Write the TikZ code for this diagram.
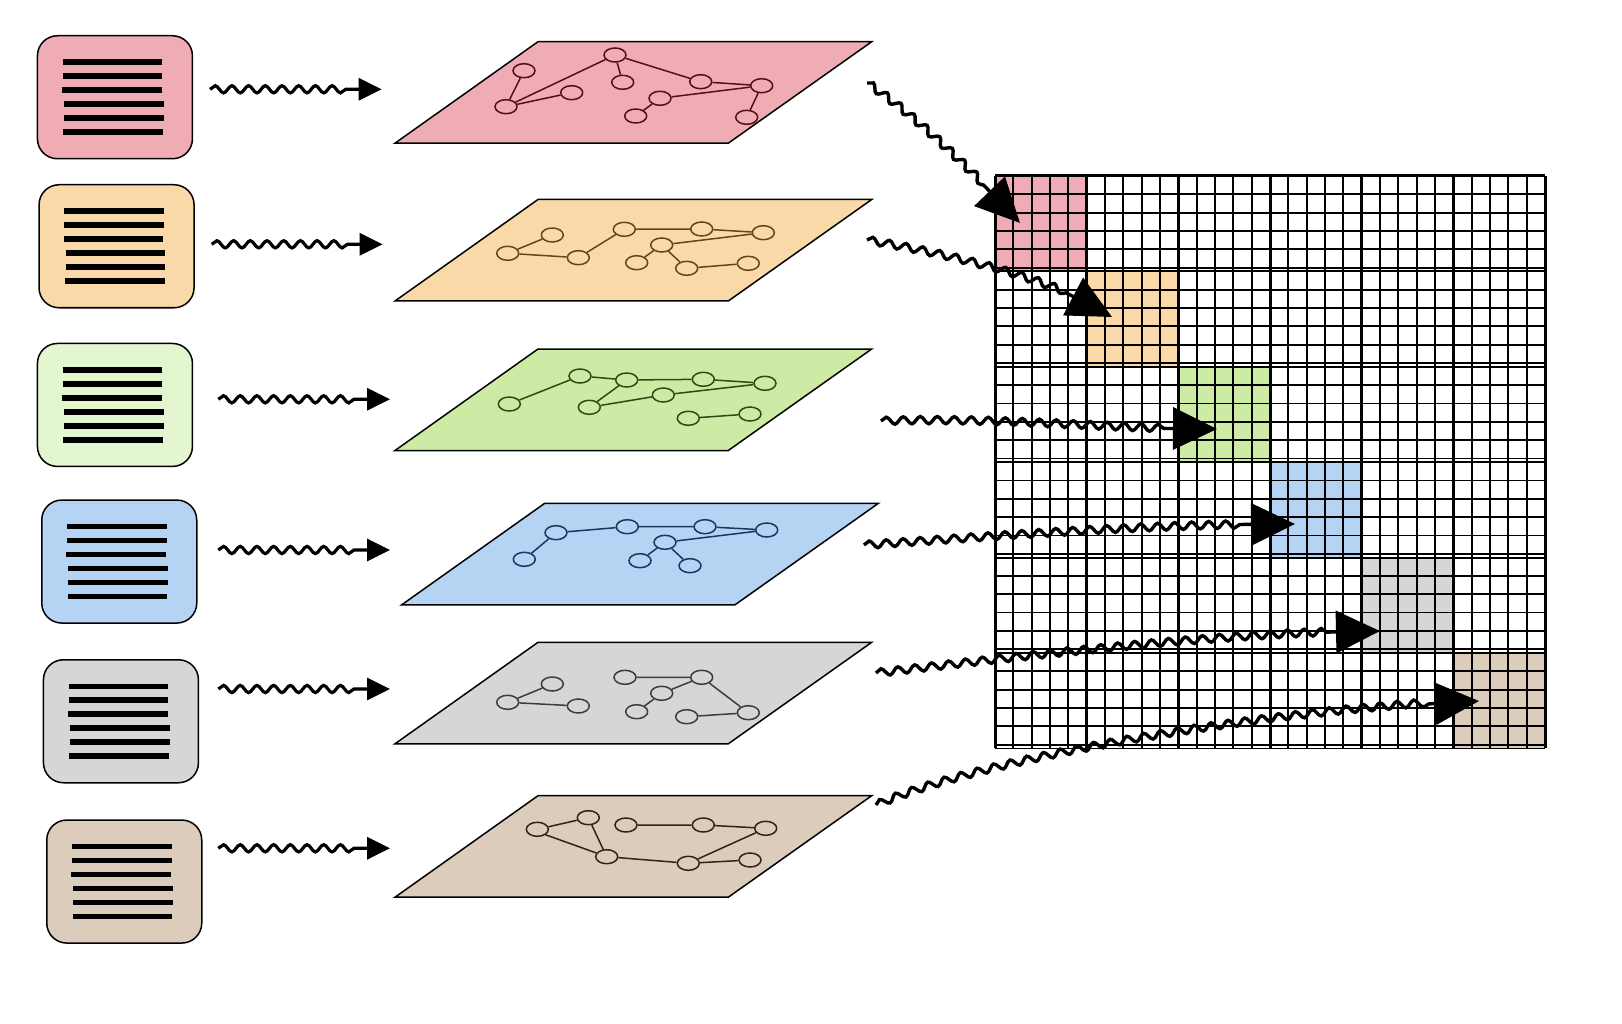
\documentclass[tikz,border=0pt]{standalone}
\usetikzlibrary{shapes.geometric,arrows.meta,decorations.pathmorphing,calc}
\definecolor{pinkF}{RGB}{240,172,180}
\definecolor{orangeF}{RGB}{250,217,168}
\definecolor{greenF}{RGB}{205,235,165}
\definecolor{greenBox}{RGB}{228,246,208}
\definecolor{blueF}{RGB}{181,211,242}
\definecolor{greyF}{RGB}{214,214,214}
\definecolor{brownF}{RGB}{220,204,188}
\definecolor{pinkS}{RGB}{80,15,25}
\definecolor{orangeS}{RGB}{100,70,20}
\definecolor{greenS}{RGB}{45,75,20}
\definecolor{blueS}{RGB}{25,55,95}
\definecolor{greyS}{RGB}{60,60,60}
\definecolor{brownS}{RGB}{50,35,20}
\begin{document}
\begin{tikzpicture}[x=1pt,y=-1pt,
  docbox/.style={draw=black,line width=1.5pt,rounded corners=20pt,minimum width=155pt,minimum height=123pt,anchor=north west,inner sep=0pt},
  docline/.style={line width=5.6pt,line cap=butt},
  plane/.style={draw=black,line width=1.5pt,line join=miter},
  gn/.style={ellipse,draw,line width=1.5pt,minimum width=22pt,minimum height=14pt,inner sep=0pt},
  ge/.style={line width=1.5pt},
  wavy/.style={line width=3.2pt,decorate,decoration={snake,amplitude=3.6pt,segment length=16.7pt,post length=34pt},-{Triangle[length=23pt,width=22pt]}},
  bigwavy/.style={line width=3.4pt,decorate,decoration={snake,amplitude=3.6pt,segment length=17pt,post length=50pt},-{Triangle[length=44pt,width=42pt]}},
  thinline/.style={line width=1.8pt},
  thickline/.style={line width=3pt}]
\useasboundingbox[fill=white] (0,0) rectangle (1622,1024);

% ---------- left document boxes ----------
\node[docbox,fill=pinkF]   (b1) at (36.7,35) {};
\node[docbox,fill=orangeF] (b2) at (38.3,184) {};
\node[docbox,fill=greenBox](b3) at (36.7,342.7) {};
\node[docbox,fill=blueF]   (b4) at (41,499.3) {};
\node[docbox,fill=greyF]   (b5) at (42.7,659) {};
\node[docbox,fill=brownF]  (b6) at (46,819.3) {};
\foreach \b in {b1,b2,b3,b4,b5,b6}
  \foreach \dy/\dx in {27.3/0,41.2/0,55/-0.7,69/1.3,83.2/1.3,97/0.7}
    \draw[docline] ($(\b.north west)+(26+\dx,\dy)$) -- ++(99.5,0);

% ---------- planes ----------
\foreach \x/\y/\c in {395/41.7/pinkF,395/199.5/orangeF,395/349/greenF,401.7/503.3/blueF,395/642.3/greyF,395/795.7/brownF}
  \draw[plane,fill=\c] (\x,\y+101.5) -- ++(143,-101.5) -- ++(333.7,0) -- ++(-143.4,101.5) -- cycle;

% pink graph
\begin{scope}[every node/.style={gn,draw=pinkS},every path/.append style={draw=pinkS}]
\node (r1) at (615,55) {};
\node (r2) at (524,70.7) {};
\node (r3) at (622.7,82.3) {};
\node (r4) at (571.7,92.7) {};
\node (r5) at (506,106.7) {};
\node (r6) at (700.7,81.7) {};
\node (r7) at (761.7,85.7) {};
\node (r8) at (660,98.3) {};
\node (r9) at (635.7,116) {};
\node (r10) at (746.7,117.3) {};
\draw[ge] (r5)--(r2) (r5)--(r1) (r5)--(r4) (r1)--(r3) (r1)--(r6) (r6)--(r7) (r7)--(r8) (r8)--(r9) (r7)--(r10);
\end{scope}
% orange graph
\begin{scope}[every node/.style={gn,draw=orangeS},every path/.append style={draw=orangeS}]
\node (o1) at (507.7,253.3) {};
\node (o2) at (552.3,235) {};
\node (o3) at (578.3,257.7) {};
\node (o4) at (624.3,229.3) {};
\node (o5) at (701.7,229) {};
\node (o6) at (763.3,232.7) {};
\node (o7) at (661.7,245) {};
\node (o8) at (636.7,262.7) {};
\node (o9) at (686.7,268.3) {};
\node (o10) at (748.3,263.3) {};
\draw[ge] (o1)--(o2) (o1)--(o3) (o3)--(o4) (o4)--(o5) (o5)--(o6) (o6)--(o7) (o7)--(o8) (o7)--(o9) (o9)--(o10);
\end{scope}
% green graph
\begin{scope}[every node/.style={gn,draw=greenS},every path/.append style={draw=greenS}]
\node (g1) at (509.3,404) {};
\node (g2) at (580,376) {};
\node (g3) at (626.7,380) {};
\node (g4) at (703.3,379.3) {};
\node (g5) at (765,383.3) {};
\node (g6) at (663.3,395) {};
\node (g7) at (589.3,407.3) {};
\node (g8) at (688.3,418.3) {};
\node (g9) at (750,414) {};
\draw[ge] (g1)--(g2) (g2)--(g3) (g3)--(g4) (g4)--(g5) (g5)--(g6) (g6)--(g7) (g7)--(g3) (g8)--(g9);
\end{scope}
% blue graph
\begin{scope}[every node/.style={gn,draw=blueS},every path/.append style={draw=blueS}]
\node (u1) at (556,532.7) {};
\node (u2) at (524.3,559.3) {};
\node (u3) at (627.3,526.7) {};
\node (u4) at (705,526.7) {};
\node (u5) at (766.7,530) {};
\node (u6) at (665,542.3) {};
\node (u7) at (640,560.7) {};
\node (u8) at (690,565.7) {};
\draw[ge] (u2)--(u1) (u1)--(u3) (u3)--(u4) (u4)--(u5) (u5)--(u6) (u6)--(u7) (u6)--(u8);
\end{scope}
% grey graph
\begin{scope}[every node/.style={gn,draw=greyS},every path/.append style={draw=greyS}]
\node (y1) at (507.7,702.3) {};
\node (y2) at (552.3,684) {};
\node (y3) at (578.3,706) {};
\node (y4) at (625,677.3) {};
\node (y5) at (701.7,677.3) {};
\node (y6) at (661.7,693.3) {};
\node (y7) at (636.7,711.7) {};
\node (y8) at (686.7,716.7) {};
\node (y9) at (748.3,712.7) {};
\draw[ge] (y1)--(y2) (y1)--(y3) (y4)--(y5) (y5)--(y6) (y6)--(y7) (y5)--(y9) (y8)--(y9);
\end{scope}
% brown graph
\begin{scope}[every node/.style={gn,draw=brownS},every path/.append style={draw=brownS}]
\node (n1) at (537.3,829.3) {};
\node (n2) at (588.3,817.7) {};
\node (n3) at (626,825) {};
\node (n4) at (703.3,825) {};
\node (n5) at (765.7,828.3) {};
\node (n6) at (606.7,856.7) {};
\node (n7) at (688.3,863.3) {};
\node (n8) at (750,860) {};
\draw[ge] (n1)--(n2) (n2)--(n6) (n1.south east)--(n6) (n6)--(n7) (n7)--(n5) (n7)--(n8) (n3)--(n4) (n4)--(n5);
\end{scope}

% ---------- grid ----------
\foreach \i/\c in {0/pinkF,1/orangeF,2/greenF,3/blueF,4/greyF,5/brownF}
  \fill[\c] ({995+\i*91.67},{176+\i*95.4}) rectangle ++(91.67,95.4);
\foreach \r in {0,...,5}
  \foreach \k in {0,...,5}
    \draw[thinline] (995,{176+\r*95.4+\k*18.33}) -- (1545,{176+\r*95.4+\k*18.33});
\foreach \j in {0,...,30}
  \draw[thinline] ({995+\j*18.333},176) -- ({995+\j*18.333},748.4);
\foreach \j in {0,...,6}
  \draw[thickline] ({995+\j*91.67},176) -- ({995+\j*91.67},748.4);
\draw[thickline] (995,176) -- (1545,176);
\draw[thinline] (995,748.4) -- (1545,748.4);

% ---------- small arrows ----------
\coordinate (s1) at (210,89.3);  \coordinate (t1) at (381.7,89.3);
\coordinate (s2) at (211.7,244.3); \coordinate (t2) at (382.7,244.3);
\coordinate (s3) at (218.3,399.3); \coordinate (t3) at (390,399.3);
\coordinate (s4) at (218.3,550); \coordinate (t4) at (390,550);
\coordinate (s5) at (218.3,689); \coordinate (t5) at (390,689);
\coordinate (s6) at (218.3,848.3); \coordinate (t6) at (390,848.3);
\foreach \i in {1,...,6}
  \draw[wavy] (s\i) -- (t\i);

% ---------- big arrows ----------
\coordinate (S1) at (867,83);   \coordinate (T1) at (1020,223);
\coordinate (S2) at (867,240);  \coordinate (T2) at (1112,317);
\coordinate (S3) at (881,421);  \coordinate (T3) at (1217,429);
\coordinate (S4) at (864,545);  \coordinate (T4) at (1295,524);
\coordinate (S5) at (876,673);  \coordinate (T5) at (1380,631);
\coordinate (S6) at (876,805);  \coordinate (T6) at (1479,701);
\draw[bigwavy] (S1) .. controls (915,115) and (975,175) .. (T1);
\draw[bigwavy] (S2) .. controls (960,256) and (1060,282) .. (T2);
\draw[bigwavy] (S3) .. controls (1000,417) and (1120,430) .. (T3);
\draw[bigwavy] (S4) .. controls (1010,535) and (1150,524) .. (T4);
\draw[bigwavy] (S5) .. controls (1030,655) and (1230,632) .. (T5);
\draw[bigwavy] (S6) .. controls (980,760) and (1250,712) .. (T6);
\end{tikzpicture}
\end{document}
